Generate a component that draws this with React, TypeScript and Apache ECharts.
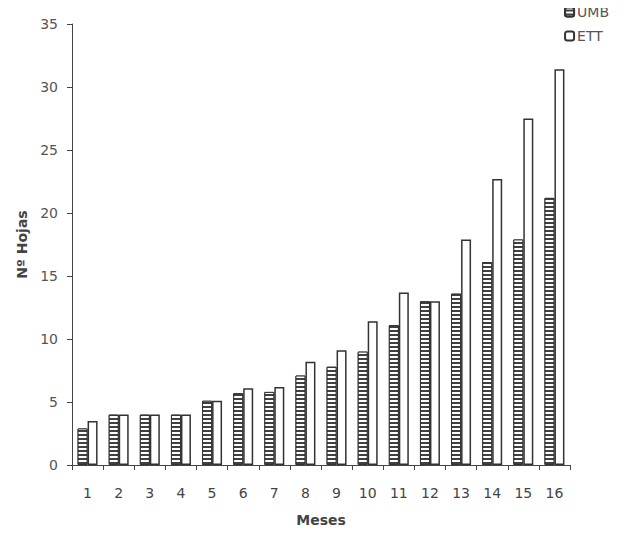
import React, { useEffect, useRef } from "react";
import * as echarts from "echarts";

const categories = ["1","2","3","4","5","6","7","8","9","10","11","12","13","14","15","16"];
const umbValues = [2.9, 4.0, 4.0, 4.0, 5.1, 5.7, 5.8, 7.1, 7.8, 9.0, 11.1, 13.0, 13.6, 16.1, 17.9, 21.2];
const ettValues = [3.5, 4.0, 4.0, 4.0, 5.1, 6.1, 6.2, 8.2, 9.1, 11.4, 13.7, 13.0, 17.9, 22.7, 27.5, 31.4];
const yTicks = { min: 0, max: 35, interval: 5 };

const FONT = "DejaVu Sans, Liberation Sans, Arial, sans-serif";

export default function App() {
  const ref = useRef<HTMLDivElement>(null);
  useEffect(() => {
    if (!ref.current) return;
    const chart = echarts.init(ref.current, null, { renderer: "svg" });
    chart.setOption({
      animation: false,
      backgroundColor: "#ffffff",
      textStyle: { fontFamily: FONT },
      legend: {
        orient: "vertical",
        right: 10,
        top: 5,
        padding: [0, 5, 5, 5],
        itemWidth: 9,
        itemHeight: 9,
        itemGap: 10,
        textStyle: { color: "#555", fontSize: 14, fontFamily: FONT, padding: [0, 0, 0, -2] },
        data: ["UMB", "ETT"],
      },
      grid: { left: 72, right: 54, top: 24, bottom: 68, outerBoundsMode: "none", containLabel: false },
      xAxis: {
        type: "category",
        data: categories,
        name: "Meses",
        nameLocation: "middle",
        nameGap: 48,
        nameTextStyle: { color: "#444", fontSize: 14, fontWeight: "bold", fontFamily: FONT },
        axisLine: { lineStyle: { color: "#444", width: 1 } },
        axisTick: { show: true, length: 5, alignWithLabel: false, lineStyle: { color: "#444" } },
        axisLabel: { color: "#444", fontSize: 14, margin: 21, fontFamily: FONT },
      },
      yAxis: {
        type: "value",
        min: yTicks.min,
        max: yTicks.max,
        interval: yTicks.interval,
        name: "Nº Hojas",
        nameLocation: "middle",
        nameGap: 42,
        nameRotate: 90,
        nameTextStyle: { color: "#444", fontSize: 14, fontWeight: "bold", fontFamily: FONT },
        axisLine: { show: true, lineStyle: { color: "#444", width: 1 } },
        axisTick: { show: true, length: 5, lineStyle: { color: "#444" } },
        splitLine: { show: false },
        axisLabel: { color: "#555", fontSize: 14, margin: 14, fontFamily: FONT },
      },
      series: [
        {
          name: "UMB",
          type: "bar",
          data: umbValues,
          barWidth: 10,
          barGap: "0%",
          itemStyle: {
            color: "#404040",
            borderColor: "#333",
            borderWidth: 1,
            decal: {
              symbol: "rect",
              symbolSize: 1,
              color: "#ffffff",
              dashArrayX: [[6, 0]],
              dashArrayY: [1.3, 1.7],
              rotation: 0,
            },
          },
        },
        {
          name: "ETT",
          type: "bar",
          data: ettValues,
          barWidth: 10,
          barGap: "0%",
          itemStyle: { color: "#ffffff", borderColor: "#333", borderWidth: 1.5 },
        },
      ],
    });
    return () => chart.dispose();
  }, []);
  return <div ref={ref} style={{ width: 624, height: 533, margin: -8 }} />;
}
